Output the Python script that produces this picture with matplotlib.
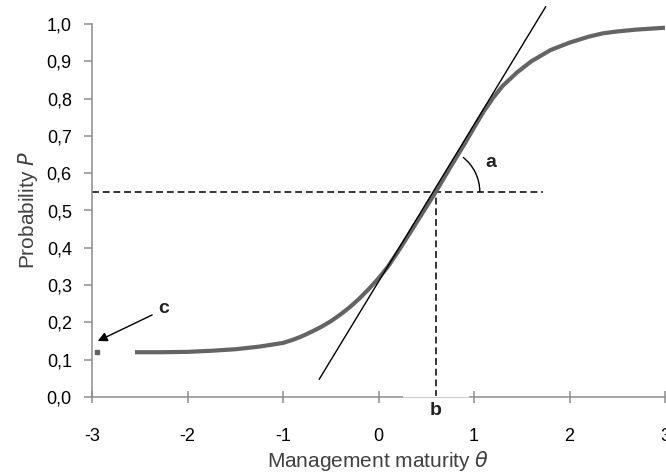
import numpy as np
import matplotlib
matplotlib.use("Agg")
import matplotlib.pyplot as plt
import matplotlib.patches as patches

plt.rcParams["font.family"] = ["Liberation Sans", "DejaVu Sans"]
plt.rcParams["axes.unicode_minus"] = False

# item characteristic curve
theta = [-2.55, -2.3, -2.0, -1.75, -1.5, -1.25, -1.0, -0.9, -0.8, -0.7, -0.6, -0.5, -0.4,
         -0.3, -0.2, -0.1, 0.0, 0.1, 0.2, 0.3, 0.45, 0.6, 0.75, 0.9, 1.0, 1.1, 1.2, 1.3,
         1.45, 1.6, 1.8, 2.0, 2.2, 2.35, 2.5, 2.7, 3.0]
prob = [0.120, 0.120, 0.121, 0.124, 0.128, 0.135, 0.145, 0.153, 0.163, 0.175, 0.188, 0.203, 0.221,
        0.241, 0.264, 0.290, 0.318, 0.350, 0.388, 0.428, 0.489, 0.550, 0.615, 0.678, 0.722, 0.765, 0.802, 0.834,
        0.870, 0.900, 0.930, 0.950, 0.966, 0.975, 0.980, 0.985, 0.990]

# parameters marked on the chart
b_val = 0.6
p_b = 0.55
c_val = 0.12
tangent_x = [-0.62, 1.75]
tangent_y = [0.048, 1.046]
guide_end = 1.72

xticks = [-3, -2, -1, 0, 1, 2, 3]
xtick_labels = ["-3", "-2", "-1", "0", "1", "2", "3"]
yticks = [0.0, 0.1, 0.2, 0.3, 0.4, 0.5, 0.6, 0.7, 0.8, 0.9, 1.0]
ytick_labels = ["0,0", "0,1", "0,2", "0,3", "0,4", "0,5", "0,6", "0,7", "0,8", "0,9", "1,0"]

fig = plt.figure(figsize=(6.66, 4.74), dpi=100)
ax = fig.add_axes([92 / 666, 1 - 397 / 474, 573 / 666, 373 / 474])
ax.set_xlim(-3, 3)
ax.set_ylim(0, 1)

spine_col = "#8c8c8c"
for s in ["top", "right"]:
    ax.spines[s].set_visible(False)
for s in ["left", "bottom"]:
    ax.spines[s].set_color(spine_col)
    ax.spines[s].set_linewidth(1.1)

ax.set_xticks(xticks)
ax.set_xticklabels(xtick_labels)
ax.set_yticks(yticks)
ax.set_yticklabels(ytick_labels)
ax.tick_params(axis="x", direction="inout", length=9, width=1.1, color=spine_col,
               pad=18, labelsize=13)
ax.tick_params(axis="y", direction="out", length=5.5, width=1.1, color=spine_col,
               pad=9, labelsize=13)

# curve
ax.plot(theta, prob, color="#646464", lw=3.0, solid_capstyle="butt",
        solid_joinstyle="round", zorder=3)
# c marker on the axis
ax.plot([-2.95], [c_val], marker="s", ms=3, color="#646464", ls="none", clip_on=False, zorder=4)

# tangent
ax.plot(tangent_x, tangent_y, color="black", lw=1.0, clip_on=False, zorder=4)

# dashed guides
ax.plot([-3, guide_end], [p_b, p_b], color="black", lw=1.1, ls=(0, (4.5, 2.5)), zorder=2)
ax.plot([b_val, b_val], [0, p_b], color="black", lw=1.1, ls=(0, (4.5, 2.5)), zorder=2)

# angle arc for a (circle of ~44 px in screen space)
sx = 573 / 6.0
sy = 373 / 1.0
r = 44
ang = np.deg2rad(52)
theta2 = np.rad2deg(np.arctan2((r / sy) * np.sin(ang), (r / sx) * np.cos(ang)))
arc = patches.Arc((b_val, p_b), 2 * r / sx, 2 * r / sy, theta1=0, theta2=theta2,
                  color="black", lw=1.0, zorder=4)
ax.add_patch(arc)
ax.text(1.12, 0.63, "a", fontsize=14, fontweight="bold", color="#222222",
        ha="left", va="center")

# b label: white patch over the axis, leaving a faint line
box = patches.Rectangle((0.26, -0.065), 0.69, 0.069, facecolor="white",
                        edgecolor="none", clip_on=False, zorder=5)
ax.add_patch(box)
ax.plot([0.26, 0.95], [0, 0], color="#c8c8c8", lw=0.7, clip_on=False, zorder=5.5)
ax.text(b_val, -0.035, "b", fontsize=14, fontweight="bold", color="#222222",
        ha="center", va="center", zorder=6, clip_on=False)

# c label and arrow
ax.annotate("", xy=(-2.94, 0.15), xytext=(-2.37, 0.22),
            arrowprops=dict(arrowstyle="-|>", color="black", lw=1.0,
                            mutation_scale=14, shrinkA=0, shrinkB=0))
ax.text(-2.25, 0.236, "c", fontsize=14, fontweight="bold", color="#222222",
        ha="center", va="center")

ax.set_xlabel(r"Management maturity $\theta$", fontsize=15, color="#404040", labelpad=3)
ax.set_ylabel(r"Probability $P$", fontsize=15, color="#404040", labelpad=5)

fig.savefig("out.png", dpi=100)
